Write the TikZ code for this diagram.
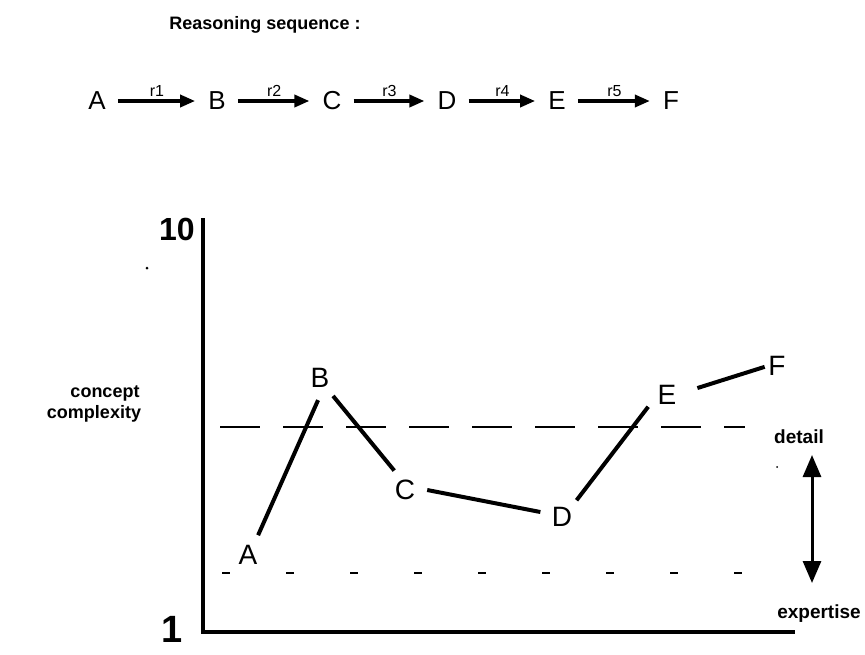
\documentclass[tikz,border=0pt]{standalone}
\usepackage{fontspec}
\setmainfont{Liberation Sans}
\usetikzlibrary{arrows.meta}

\begin{document}
\begin{tikzpicture}[x=1pt,y=-1pt,
  seqletter/.style={font=\fontsize{26}{26}\selectfont, inner sep=0pt},
  rlabel/.style={font=\fontsize{16}{16}\selectfont, above=3pt, inner sep=0pt},
  seqarrow/.style={line width=3.5pt, -{Triangle[length=15pt,width=12pt]}, shorten <=12pt, shorten >=13pt},
  ptlabel/.style={font=\fontsize{28}{28}\selectfont, circle, inner sep=0pt, minimum size=44pt},
  trace/.style={line width=4pt},
  boldlabel/.style={font=\bfseries\fontsize{18}{18}\selectfont, inner sep=0pt},
  sidelabel/.style={font=\bfseries\fontsize{19}{19}\selectfont, inner sep=0pt},
  axis/.style={line width=4pt},
  detailline/.style={line width=2pt, dash pattern=on 40pt off 23pt},
  expertline/.style={line width=2pt, dash pattern=on 8pt off 56pt},
  rangearrow/.style={line width=3pt, {Triangle[length=22pt,width=18pt]}-{Triangle[length=22pt,width=18pt]}},
  speck/.style={fill=black, circle, inner sep=0pt, minimum size=3pt}
]
\useasboundingbox (0,0) rectangle (865,654);

% heading
\node[boldlabel] (title) at (265,25) {Reasoning sequence :};

% reasoning sequence
\node[seqletter] (sA) at (97,101) {A};
\node[seqletter] (sB) at (217,101) {B};
\node[seqletter] (sC) at (332,101) {C};
\node[seqletter] (sD) at (447,101) {D};
\node[seqletter] (sE) at (557,101) {E};
\node[seqletter] (sF) at (671,101) {F};
\draw[seqarrow] (sA) -- node[rlabel] {r1} (sB);
\draw[seqarrow] (sB) -- node[rlabel] {r2} (sC);
\draw[seqarrow] (sC) -- node[rlabel] {r3} (sD);
\draw[seqarrow] (sD) -- node[rlabel] {r4} (sE);
\draw[seqarrow] (sE) -- node[rlabel] {r5} (sF);

% axes
\coordinate (ytop) at (203,218);
\coordinate (origin) at (203,632);
\coordinate (xend) at (795,632);
\draw[axis] (ytop) -- (origin) -- (xend);
\node[font=\bfseries\fontsize{32}{32}\selectfont, inner sep=0pt] (ten) at (177,229) {10};
\node[font=\bfseries\fontsize{38}{38}\selectfont, inner sep=0pt] (one) at (172,629) {1};
\node[speck] (dot1) at (147,268) {};
\node[speck, minimum size=2pt] (dot2) at (777,467) {};

% axis caption
\node[boldlabel] (concept) at (105,393) {concept};
\node[boldlabel] (complexity) at (94,414) {complexity};

% levels
\coordinate (d0) at (220,427);
\coordinate (d1) at (745,427);
\draw[detailline] (d0) -- (d1);
\coordinate (e0) at (222,573);
\coordinate (e1) at (745,573);
\draw[expertline] (e0) -- (e1);
\node[sidelabel] (detail) at (799,437) {detail};
\node[sidelabel] (expertise) at (819,614) {expertise};
\coordinate (rtop) at (812,455);
\coordinate (rbot) at (812,583);
\draw[rangearrow] (rtop) -- (rbot);

% reasoning trace
\node[ptlabel] (gA) at (248,555) {A};
\node[ptlabel] (gB) at (320,378) {B};
\node[ptlabel] (gC) at (405,490) {C};
\node[ptlabel] (gD) at (562,517) {D};
\node[ptlabel] (gE) at (667,395) {E};
\node[ptlabel] (gF) at (777,366) {F};
\draw[trace] (gA.63) -- (gB.265);
\draw[trace] (gB.306) -- (gC.119);
\draw[trace] (gC.0) -- (gD.167);
\draw[trace] (gD.49) -- (gE.212);
\draw[trace, shorten <=9pt, shorten >=-10pt] (gE.11) -- (gF.190);
\end{tikzpicture}
\end{document}
